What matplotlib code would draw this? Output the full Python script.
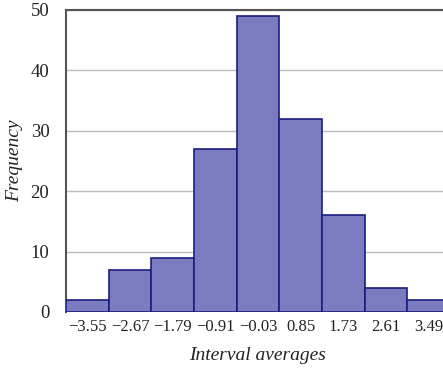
import numpy as np
import matplotlib.pyplot as plt

centers = [-3.55, -2.67, -1.79, -0.91, -0.03, 0.85, 1.73, 2.61, 3.49]
counts = [2, 7, 9, 27, 49, 32, 16, 4, 2]
labels = ["\u22123.55", "\u22122.67", "\u22121.79", "\u22120.91", "\u22120.03",
          "0.85", "1.73", "2.61", "3.49"]
width = 0.88

plt.rcParams['font.family'] = 'Liberation Serif'

fig = plt.figure(figsize=(4.43, 3.76), dpi=100)
ax = fig.add_axes([66/443, 64/376, 384/443, 302/376])

ax.bar(centers, counts, width=width, color='#7b7bbf', edgecolor='#1c1c82',
       linewidth=1.2, zorder=3)

ax.set_xlim(centers[0] - width/2, centers[-1] + width/2)
ax.set_ylim(0, 50)
ax.set_yticks([0, 10, 20, 30, 40, 50])
ax.set_xticks(centers)
ax.set_xticklabels(labels)
ax.tick_params(axis='x', length=0, labelsize=12, colors='#222222', pad=5)
ax.tick_params(axis='y', length=0, labelsize=13.5, colors='#222222', pad=12)
ax.yaxis.grid(True, color='#bbbbbb', linewidth=1, zorder=0)

for s in ['right', 'bottom']:
    ax.spines[s].set_visible(False)
ax.spines['left'].set_color('#555555')
ax.spines['left'].set_linewidth(1.5)
ax.spines['top'].set_color('#555555')
ax.spines['top'].set_linewidth(1.5)

fig.text(258/443, 1 - 356/376, 'Interval averages', fontsize=14, style='italic',
         ha='center', va='center', color='#222222')
fig.text(15/443, 1 - 161/376, 'Frequency', fontsize=14, style='italic',
         ha='center', va='center', rotation=90, color='#222222')

fig.savefig('out.png', dpi=100)
